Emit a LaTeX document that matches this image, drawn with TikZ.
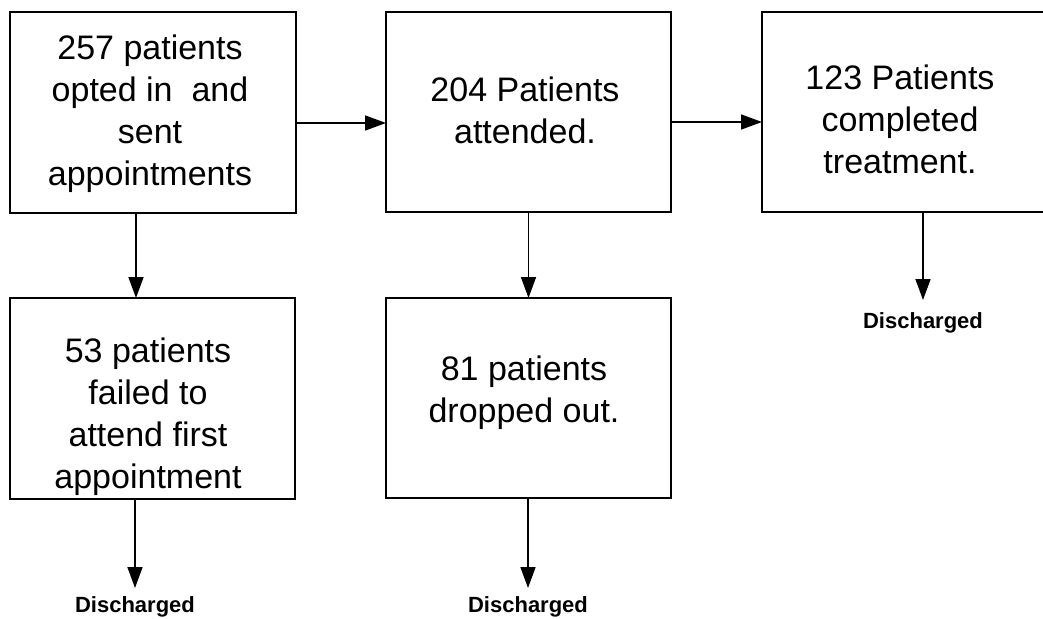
\documentclass[tikz,border=0pt]{standalone}
\usepackage{fontspec}
\setmainfont{Liberation Sans}
\usetikzlibrary{arrows.meta}
\begin{document}
\begin{tikzpicture}[x=1pt,y=-1pt,
  box/.style={draw=black, line width=2pt, inner sep=0pt, outer sep=0pt, fill=none},
  txt/.style={align=center, inner sep=0pt, font=\fontsize{34}{42}\selectfont},
  dis/.style={inner sep=0pt, font=\fontsize{22}{26}\selectfont\bfseries},
  arr/.style={line width=1.6pt, -{Triangle[length=21pt,width=15pt]}}]
\useasboundingbox (0,0) rectangle (1043,618);
\clip (0,0) rectangle (1043,618);
% boxes
\node[box, minimum width=286pt, minimum height=201pt] (A) at (153,112.5) {};
\node[box, minimum width=285pt, minimum height=200pt] (B) at (528.5,112) {};
\node[box, minimum width=288pt, minimum height=200pt] (C) at (906,112) {};
\node[box, minimum width=285pt, minimum height=201pt] (D) at (152.5,398.5) {};
\node[box, minimum width=285pt, minimum height=200pt] (E) at (528.5,398) {};
% texts
\node[txt] (tA) at (150,114) {257 patients\\opted in\ \ and\\sent\\appointments};
\node[txt] (tB) at (525,110) {204 Patients\\attended.};
\node[txt] (tC) at (900,119) {123 Patients\\completed\\treatment.};
\node[txt] (tD) at (148,417) {53 patients\\failed to\\attend first\\appointment};
\node[txt] (tE) at (524,393) {81 patients\\dropped out.};
% discharged labels
\node[dis, anchor=north] (dC) at (923,312) {Discharged};
\node[dis, anchor=north] (dD) at (135,596) {Discharged};
\node[dis, anchor=north] (dE) at (528,596) {Discharged};
% connectors
\draw[arr] ([yshift=-10.5pt]A.east) -- ([yshift=-10.5pt]A.east -| B.west);
\draw[arr] ([yshift=-10pt]B.east) -- ([yshift=-10pt]B.east -| C.west);
\draw[arr] ([xshift=-17pt]A.south) -- ([xshift=-17pt]A.south |- D.north);
\draw[arr] (B.south) -- (B.south |- E.north);
\draw[arr] (C.south -| dC.north) -- ([yshift=12pt]dC.north);
\draw[arr] (D.south -| dD.north) -- ([yshift=8pt]dD.north);
\draw[arr] (E.south -| dE.north) -- ([yshift=8pt]dE.north);
\end{tikzpicture}
\end{document}
